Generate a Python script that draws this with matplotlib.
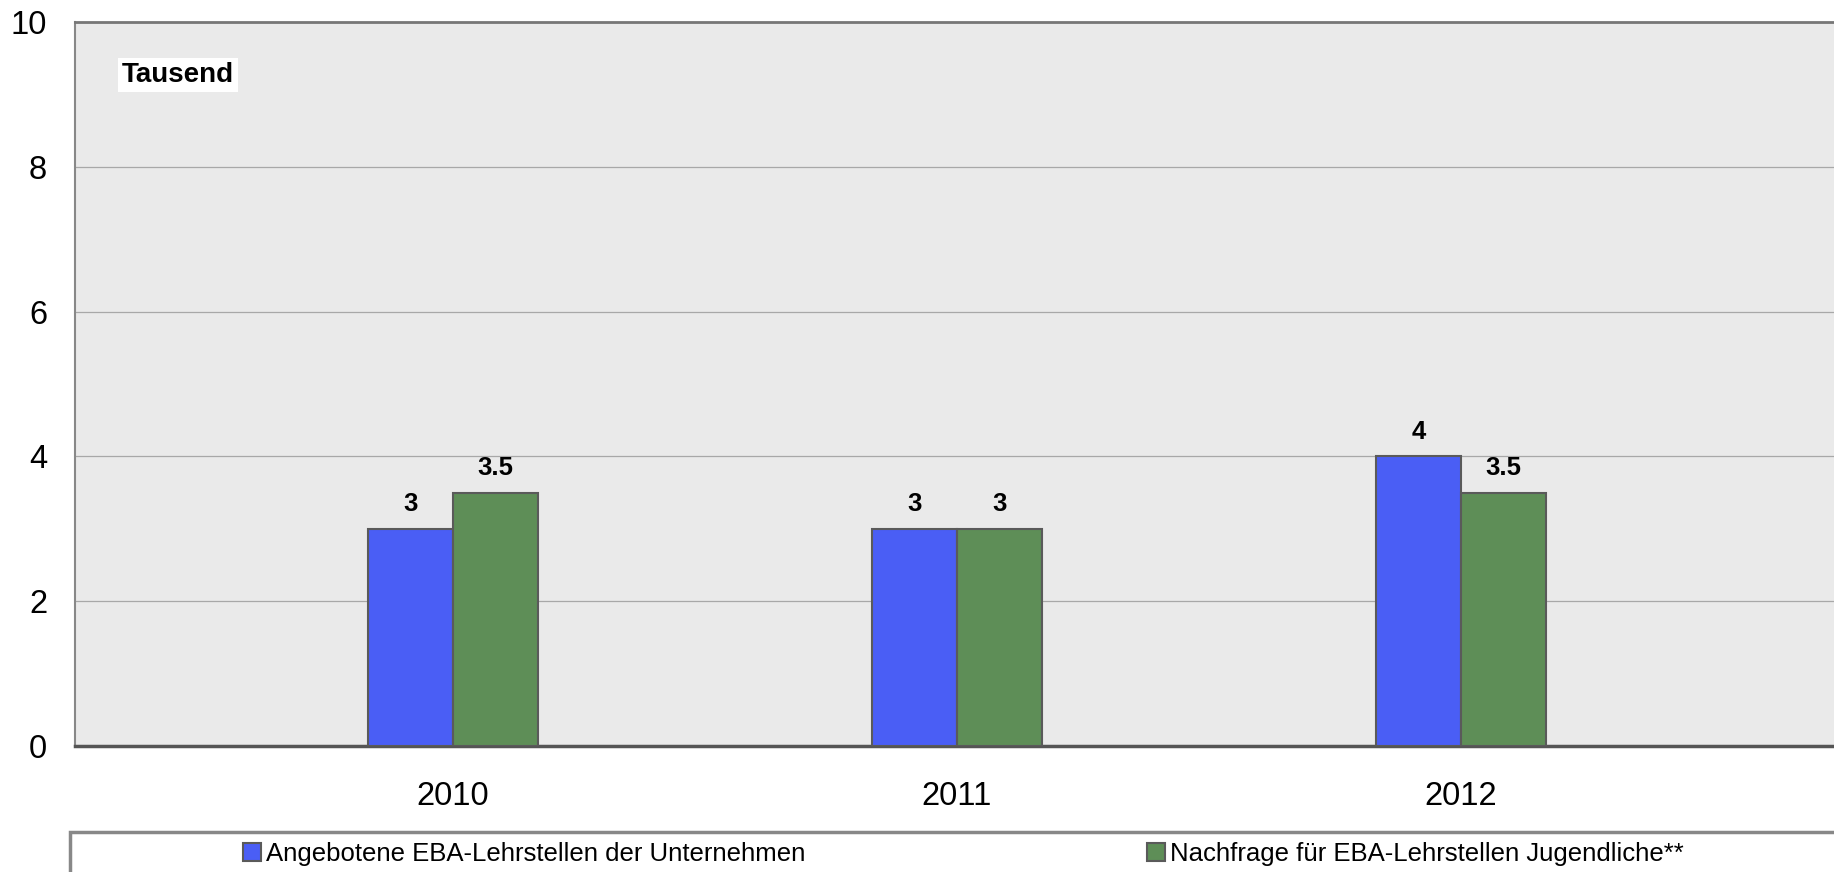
import numpy as np
import matplotlib
matplotlib.use("Agg")
import matplotlib.pyplot as plt
from matplotlib.patches import Rectangle

years = ["2010", "2011", "2012"]
angebot = [3, 3, 4]
nachfrage = [3.5, 3, 3.5]
labels_angebot = ["3", "3", "4"]
labels_nachfrage = ["3.5", "3", "3.5"]
series_names = ["Angebotene EBA-Lehrstellen der Unternehmen",
                "Nachfrage für EBA-Lehrstellen Jugendliche**"]
yticks = [0, 2, 4, 6, 8, 10]

plt.rcParams['font.family'] = ['Liberation Sans', 'DejaVu Sans']

W, H = 1834, 872
fig = plt.figure(figsize=(W / 100, H / 100), dpi=100)
ax = fig.add_axes([75 / W, (H - 746) / H, 1 - 75 / W, (746 - 22) / H])
ax.set_facecolor("#EAEAEA")

x = np.arange(len(years))
w = 0.1687
b1 = ax.bar(x - w / 2, angebot, w, color="#4A5EF5", edgecolor="#5A5A5A", linewidth=1.5, zorder=3)
b2 = ax.bar(x + w / 2, nachfrage, w, color="#5E8E57", edgecolor="#5A5A5A", linewidth=1.5, zorder=3)

for bars, labs in ((b1, labels_angebot), (b2, labels_nachfrage)):
    for rect, lab in zip(bars, labs):
        ax.annotate(lab, (rect.get_x() + rect.get_width() / 2, rect.get_height()),
                    xytext=(0, 9), textcoords="offset points", ha="center", va="bottom",
                    fontsize=18.5, fontweight="bold")

ax.set_xlim(-0.75, 2.74)
ax.set_ylim(0, 10)
ax.set_yticks(yticks)
ax.set_xticks(x)
ax.set_xticklabels(years)
ax.tick_params(axis="y", length=0, pad=20, labelsize=23.5)
ax.tick_params(axis="x", length=0, pad=25, labelsize=23.5)
ax.yaxis.grid(True, color="#A8A8A8", linewidth=0.9, zorder=0)
ax.set_axisbelow(True)

ax.spines["right"].set_visible(False)
ax.spines["top"].set_color("#777777")
ax.spines["top"].set_linewidth(2)
ax.spines["left"].set_color("#888888")
ax.spines["left"].set_linewidth(1.5)
ax.spines["bottom"].set_color("#555555")
ax.spines["bottom"].set_linewidth(2.5)

fig.text(122 / W, 1 - 75 / H, "Tausend", fontsize=20, fontweight="bold", va="center", ha="left",
         bbox=dict(facecolor="white", edgecolor="none", pad=3))

# legend frame running off the figure edges
fig.patches.append(Rectangle((70 / W, -0.1), 1.0, (H - 832) / H + 0.1, transform=fig.transFigure,
                             facecolor="white", edgecolor="#888888", linewidth=2.5))

leg = fig.legend([b1, b2], series_names, ncol=2, loc="center left",
                 bbox_to_anchor=(243 / W, 1 - 854 / H), frameon=False, fontsize=18.5,
                 handlelength=0.7, handleheight=0.7, handletextpad=0.2,
                 columnspacing=13.3, borderpad=0, borderaxespad=0)

fig.savefig("out.png", dpi=100)
